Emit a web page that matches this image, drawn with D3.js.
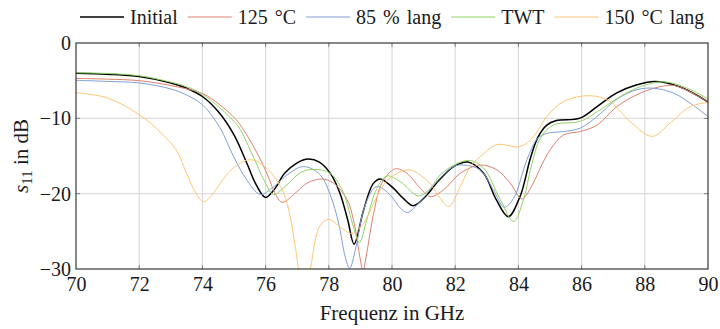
<!DOCTYPE html>
<html>
<head>
<meta charset="utf-8">
<script src="https://cdn.jsdelivr.net/npm/d3@7"></script>
<style>
  body { margin: 0; background: #fff; }
  svg { display: block; }
  svg text { font-family: "Liberation Serif", "Times New Roman", serif; fill: #1a1a1a; }
</style>
</head>
<body>
<svg id="chart" width="720" height="329"></svg>
<script>
// Reflection coefficient s11 (dB) versus frequency (GHz) for five sample states
const initialFreq = [70, 71, 72, 73, 73.5, 74, 74.5, 75, 75.4, 75.7, 76, 76.3, 76.6, 77, 77.35, 77.7, 78.05, 78.35, 78.6, 78.8, 79.1, 79.4, 79.63, 80, 80.35, 80.68, 81.1, 81.45, 81.95, 82.4, 82.9, 83.3, 83.68, 84.05, 84.38, 84.62, 84.9, 85.2, 85.95, 86.5, 87.1, 87.75, 88.3, 89.1, 90];
const initialDb   = [-4.0, -4.15, -4.45, -5.3, -6.0, -7.1, -9.1, -12.2, -15.9, -18.8, -20.5, -19.3, -17.3, -15.9, -15.4, -15.8, -17.3, -19.9, -23.5, -26.7, -22.2, -18.7, -18.05, -19.1, -20.6, -21.6, -20.2, -18.4, -16.4, -15.8, -17.3, -20.8, -23.05, -20.4, -15.3, -12.5, -10.9, -10.3, -9.97, -8.4, -6.65, -5.55, -5.1, -5.8, -7.8];

const hotFreq = [70, 71, 72, 73, 74, 74.55, 75.05, 75.3, 75.73, 76.04, 76.3, 76.52, 77.0, 77.31, 77.78, 78.15, 78.58, 78.78, 79.0, 79.08, 79.2, 79.42, 79.68, 80.1, 80.47, 80.9, 81.21, 81.63, 82.16, 82.79, 83.32, 83.74, 84.11, 84.47, 84.68, 85.0, 85.43, 85.96, 86.49, 87.12, 87.86, 88.6, 89.0, 90];
const hotDb   = [-4.7, -4.8, -5.0, -5.65, -6.7, -8.2, -10.1, -11.5, -14.6, -17.3, -19.95, -21.15, -19.7, -18.6, -18.05, -18.6, -20.8, -23.5, -28.8, -30.3, -27.9, -22.6, -18.6, -16.7, -17.3, -19.3, -20.4, -19.5, -17.3, -16.2, -16.85, -18.6, -20.7, -18.6, -16.7, -14.2, -12.2, -11.75, -10.9, -8.43, -6.65, -5.7, -5.7, -7.8];

const humidFreq = [70, 71, 72, 73, 73.5, 74, 74.55, 74.99, 75.41, 75.83, 76.25, 76.68, 77.2, 77.73, 78.05, 78.31, 78.52, 78.66, 78.84, 79.1, 79.42, 79.58, 79.95, 80.26, 80.49, 80.9, 81.32, 81.95, 82.27, 82.79, 83.21, 83.55, 83.85, 84.27, 84.6, 84.9, 85.43, 85.96, 86.49, 87.12, 87.75, 88.28, 88.91, 89.44, 90];
const humidDb   = [-4.95, -5.1, -5.3, -6.1, -6.9, -8.2, -11.2, -15.1, -18.2, -20.1, -19.1, -17.5, -16.4, -17.5, -20.2, -23.9, -28.4, -29.9, -27.5, -22.2, -19.3, -19.07, -20.2, -21.9, -22.5, -21.0, -18.85, -16.4, -16.2, -16.85, -19.5, -21.8, -20.6, -15.5, -12.7, -12.0, -11.75, -11.3, -9.75, -7.45, -6.2, -6.0, -6.65, -8.0, -9.75];

const twtFreq = [70, 71, 72, 73, 73.5, 74, 74.55, 75, 75.2, 75.6, 75.95, 76.25, 76.68, 77.1, 77.45, 77.9, 78.15, 78.47, 78.78, 78.97, 79.2, 79.52, 79.84, 80.26, 80.84, 81.21, 81.53, 82.06, 82.48, 82.9, 83.43, 83.85, 84.16, 84.4, 84.7, 85.1, 85.96, 86.5, 87.23, 87.86, 88.6, 89.34, 90];
const twtDb   = [-3.95, -4.05, -4.35, -5.2, -5.8, -6.8, -8.6, -10.4, -11.5, -15.0, -18.2, -20.1, -18.8, -17.2, -16.8, -17.0, -17.7, -19.95, -24.4, -26.5, -23.5, -19.3, -17.65, -18.4, -20.3, -19.3, -17.5, -16.0, -15.6, -16.6, -20.8, -23.7, -20.8, -16.5, -12.6, -10.9, -10.4, -9.1, -7.1, -5.8, -5.15, -6.0, -7.45];

const longHotFreq = [70, 71, 72, 72.65, 73.17, 73.5, 73.8, 74.04, 74.3, 74.57, 75.0, 75.55, 76.15, 76.57, 76.78, 76.94, 77.2, 77.41, 77.57, 77.73, 77.99, 78.36, 78.73, 79.1, 79.42, 79.73, 80.16, 80.58, 81.1, 81.32, 81.47, 81.8, 82.16, 82.48, 82.79, 83.32, 84.06, 84.48, 84.9, 85.43, 86.27, 86.9, 87.53, 88.23, 88.81, 89.44, 90];
const longHotDb   = [-6.6, -7.3, -9.5, -11.75, -14.2, -17.3, -20.0, -21.05, -20.2, -18.6, -16.5, -15.5, -17.1, -19.95, -23.05, -27.05, -33.0, -30.1, -26.2, -24.2, -23.4, -24.4, -25.3, -23.9, -21.3, -18.85, -17.3, -16.85, -18.2, -19.3, -20.3, -21.7, -19.07, -16.4, -15.1, -13.5, -13.75, -12.4, -9.75, -7.76, -7.0, -7.76, -10.4, -12.4, -10.6, -8.43, -7.9];

const seriesNames  = ["Initial", "125 \u00B0C", "85 % lang", "TWT", "150 \u00B0C lang"];
const seriesColors = ["#000000", "#e07f6e", "#7f9fd6", "#8fd463", "#fec574"];
const seriesWidths = [1.5, 1.0, 1.0, 1.0, 1.0];
const seriesFreqs  = [initialFreq, hotFreq, humidFreq, twtFreq, longHotFreq];
const seriesDbs    = [initialDb, hotDb, humidDb, twtDb, longHotDb];

const xTicks = [70, 72, 74, 76, 78, 80, 82, 84, 86, 88, 90];
const yTicks = [0, -10, -20, -30];

const serif = '"Liberation Serif", "Times New Roman", serif';
const svg = d3.select("#chart");
const plotLeft = 76, plotRight = 708, plotTop = 43, plotBottom = 269;

const x = d3.scaleLinear().domain([70, 90]).range([plotLeft, plotRight]);
const y = d3.scaleLinear().domain([-30, 0]).range([plotBottom, plotTop]);

// clip region for the curves
svg.append("defs").append("clipPath").attr("id", "plotClip")
  .append("rect").attr("x", plotLeft).attr("y", plotTop)
  .attr("width", plotRight - plotLeft).attr("height", plotBottom - plotTop);

// grid
const grid = svg.append("g");
grid.selectAll("line.vx").data(xTicks.slice(1, -1)).join("line")
  .attr("x1", d => x(d)).attr("x2", d => x(d))
  .attr("y1", plotTop).attr("y2", plotBottom)
  .attr("stroke", "#d6d6d6").attr("stroke-width", 1);
grid.selectAll("line.hy").data(yTicks.slice(1, -1)).join("line")
  .attr("x1", plotLeft).attr("x2", plotRight)
  .attr("y1", d => y(d)).attr("y2", d => y(d))
  .attr("stroke", "#d6d6d6").attr("stroke-width", 1);

// inner tick marks
const tickLen = 4;
const ticks = svg.append("g").attr("stroke", "#808080").attr("stroke-width", 1);
xTicks.slice(1, -1).forEach(t => {
  ticks.append("line").attr("x1", x(t)).attr("x2", x(t)).attr("y1", plotBottom).attr("y2", plotBottom - tickLen);
  ticks.append("line").attr("x1", x(t)).attr("x2", x(t)).attr("y1", plotTop).attr("y2", plotTop + tickLen);
});
yTicks.slice(1, -1).forEach(t => {
  ticks.append("line").attr("x1", plotLeft).attr("x2", plotLeft + tickLen).attr("y1", y(t)).attr("y2", y(t));
  ticks.append("line").attr("x1", plotRight).attr("x2", plotRight - tickLen).attr("y1", y(t)).attr("y2", y(t));
});

// curves
const line = d3.line()
  .x(d => x(d[0])).y(d => y(d[1]))
  .curve(d3.curveCatmullRom.alpha(0.5));
const curves = svg.append("g").attr("clip-path", "url(#plotClip)");
seriesNames.forEach((name, i) => {
  const pts = seriesFreqs[i].map((f, k) => [f, seriesDbs[i][k]]);
  curves.append("path").datum(pts)
    .attr("d", line)
    .attr("fill", "none")
    .attr("stroke", seriesColors[i])
    .attr("stroke-width", seriesWidths[i])
    .attr("stroke-linejoin", "round");
});

// frame
svg.append("rect")
  .attr("x", plotLeft).attr("y", plotTop)
  .attr("width", plotRight - plotLeft).attr("height", plotBottom - plotTop)
  .attr("fill", "none").attr("stroke", "#262626").attr("stroke-width", 1.1);

// axes labels
const xAxis = svg.append("g").attr("transform", `translate(0,${plotBottom})`)
  .call(d3.axisBottom(x).tickValues(xTicks).tickSize(0).tickPadding(8).tickFormat(d3.format("d")));
xAxis.select(".domain").remove();
xAxis.attr("font-family", null).attr("font-size", null);
xAxis.selectAll("text").style("font-family", serif).style("font-size", "20px").attr("fill", "#1a1a1a");

const yAxis = svg.append("g").attr("transform", `translate(${plotLeft},0)`)
  .call(d3.axisLeft(y).tickValues(yTicks).tickSize(0).tickPadding(5).tickFormat(d3.format("d")));
yAxis.select(".domain").remove();
yAxis.attr("font-family", null).attr("font-size", null);
yAxis.selectAll("text").style("font-family", serif).style("font-size", "20px").attr("fill", "#1a1a1a");

svg.append("text")
  .attr("x", (plotLeft + plotRight) / 2).attr("y", 320)
  .attr("text-anchor", "middle")
  .style("font-family", serif).style("font-size", "21px")
  .text("Frequenz in GHz");

const yLabel = svg.append("text")
  .attr("transform", `translate(28,${(plotTop + plotBottom) / 2}) rotate(-90)`)
  .attr("text-anchor", "middle")
  .style("font-family", serif).style("font-size", "21px");
yLabel.append("tspan").attr("font-style", "italic").text("s");
yLabel.append("tspan").style("font-size", "15px").attr("dy", 4).text("11");
yLabel.append("tspan").attr("dy", -4).text(" in dB");

// legend
const legend = svg.append("g").attr("transform", "translate(80,17)");
let cursor = 0;
seriesNames.forEach((name, i) => {
  legend.append("line")
    .attr("x1", cursor).attr("x2", cursor + 44)
    .attr("y1", 0).attr("y2", 0)
    .attr("stroke", seriesColors[i]).attr("stroke-width", seriesWidths[i]);
  const t = legend.append("text")
    .attr("x", cursor + 50).attr("y", 7)
    .style("font-family", serif).style("font-size", "20px")
    .style("word-spacing", "2px")
    .text(name);
  cursor += 50 + t.node().getComputedTextLength() + 10;
});
</script>
</body>
</html>
